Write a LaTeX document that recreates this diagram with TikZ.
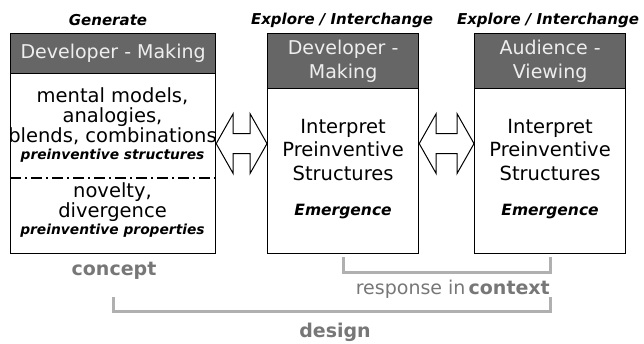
\documentclass[tikz,border=0pt]{standalone}
\usepackage{fontspec}
\setmainfont{DejaVu Sans}
\usetikzlibrary{positioning}
\definecolor{headgray}{HTML}{666666}
\definecolor{headtext}{HTML}{EEEEEE}
\definecolor{bracegray}{HTML}{B0B0B0}
\definecolor{notegray}{HTML}{777777}
\tikzset{
  panel/.style={draw, line width=1.2pt, anchor=north west, inner sep=0pt},
  head/.style={draw, fill=headgray, line width=1.2pt, anchor=north west, inner sep=0pt,
    text=headtext, align=center, font=\fontsize{19}{24}\selectfont},
  body/.style={align=center, inner sep=0pt, font=\fontsize{19.5}{20}\selectfont},
  tag/.style={inner sep=0pt, font=\bfseries\itshape\fontsize{13.8}{15}\selectfont},
  stage/.style={inner sep=0pt, font=\bfseries\itshape\fontsize{15}{16}\selectfont},
  brace/.style={draw=bracegray, line width=3pt},
  note/.style={inner sep=0pt, text=notegray, font=\fontsize{19}{18}\selectfont},
}
\begin{document}
\begin{tikzpicture}[x=1pt,y=-1pt]
            \useasboundingbox (0,0) rectangle (644,343);
            % Stage labels
            \node[stage] (generate) at (108,20) {Generate};
            \node[stage] (explore1) at (342,20) {Explore / Interchange};
            \node[stage] (explore2) at (548,20) {Explore / Interchange};
            % Panels
            \node[panel, minimum width=205pt, minimum height=220pt] (gen) at (10,33) {};
            \node[panel, minimum width=151pt, minimum height=220pt] (devm) at (267,33) {};
            \node[panel, minimum width=151pt, minimum height=220pt] (audv) at (474,33) {};
            % Headers
            \node[head, minimum width=205pt, minimum height=40pt] (genhead) at (gen.north west) {Developer - Making};
            \node[head, minimum width=151pt, minimum height=55pt] (devmhead) at (devm.north west) {Developer -\\Making};
            \node[head, minimum width=151pt, minimum height=55pt] (audvhead) at (audv.north west) {Audience -\\Viewing};
            % Generate panel texts
            \node[body] (models) at (112.5,116) {mental models,\\analogies,\\blends, combinations};
            \node[tag] (structs) at (112.5,156) {preinventive structures};
            \draw[line width=1.3pt, dash pattern=on 11pt off 4pt on 2pt off 4pt] (gen.west |- 0,178) -- (gen.east |- 0,178);
            \node[body] (novelty) at (112.5,202) {novelty,\\divergence};
            \node[tag] (props) at (112.5,231) {preinventive properties};
            % Interpret panel texts
            \foreach \p in {devm, audv} {
                \node[body, font=\fontsize{19.5}{23.5}\selectfont] (\p-interp) at ([yshift=-6pt]\p.center) {Interpret\\Preinventive\\Structures};
                \node[tag, font=\bfseries\itshape\fontsize{15.5}{16}\selectfont] (\p-emerge) at (\p.center |- 0,212) {Emergence};
            }
            % Hollow double arrows
            \foreach \l/\r in {gen/devm, devm/audv} {
                \draw[line width=1pt, fill=white] (\l.east) -- ([shift={(17,-30)}]\l.east) -- ([shift={(17,-10)}]\l.east)
                    -- ([shift={(-17,-10)}]\r.west) -- ([shift={(-17,-30)}]\r.west) -- (\r.west)
                    -- ([shift={(-17,30)}]\r.west) -- ([shift={(-17,10)}]\r.west)
                    -- ([shift={(17,10)}]\l.east) -- ([shift={(17,30)}]\l.east) -- cycle;
            }
            % Brackets
            \draw[brace] ([yshift=-3pt]devm.south) -- ++(0,15) -| ([yshift=-3pt]audv.south);
            \draw[brace] (gen.south |- 0,297) -- (gen.south |- 0,311) -| (audv.south |- 0,297);
            % Bottom labels
            \node[note, font=\bfseries\fontsize{19}{18}\selectfont] (concept) at (114,271) {concept};
            \node[note, anchor=east] (context) at (550,289) {response in\,\textbf{context}};
            \node[note, font=\bfseries\fontsize{19}{18}\selectfont] (design) at (335,332) {design};
\end{tikzpicture}
\end{document}
